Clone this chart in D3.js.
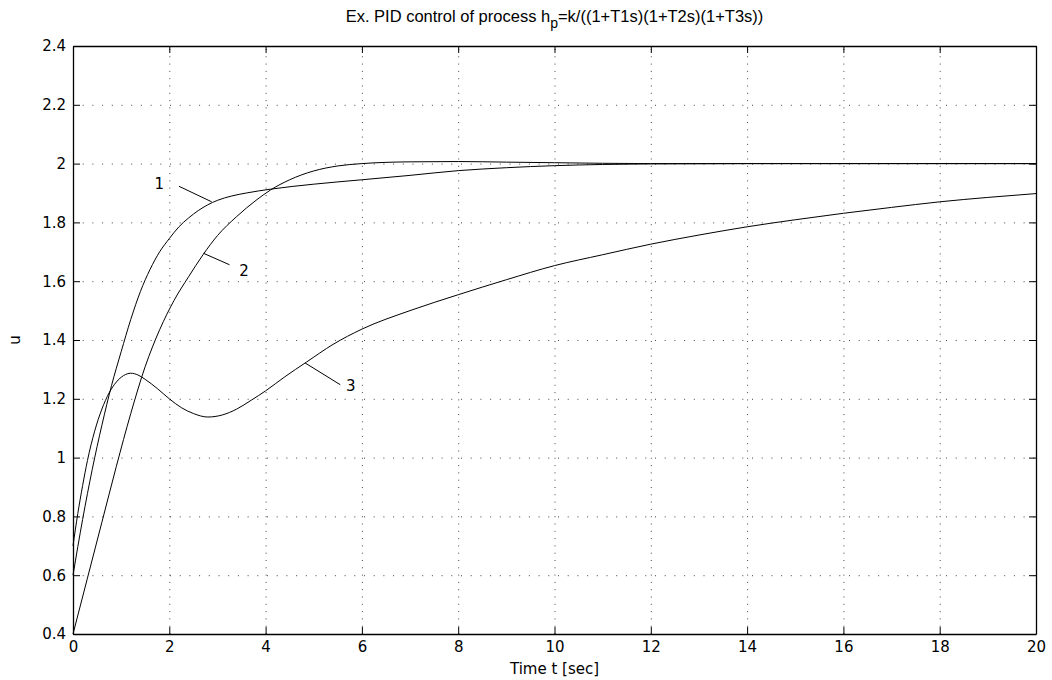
<!DOCTYPE html>
<html>
<head>
<meta charset="utf-8">
<script src="https://cdn.jsdelivr.net/npm/d3@7"></script>
<style>
  body { margin: 0; background: #fff; }
  svg { display: block; font-family: "DejaVu Sans", sans-serif; }
</style>
</head>
<body>
<div id="chart"></div>
<script>
// tick values
const xTicks = [0, 2, 4, 6, 8, 10, 12, 14, 16, 18, 20];
const yTicks = [0.4, 0.6, 0.8, 1, 1.2, 1.4, 1.6, 1.8, 2, 2.2, 2.4];

// curve 1
const t1 = [0, 0.2, 0.4, 0.6, 0.8, 1.0, 1.2, 1.4, 1.6, 1.8, 2.0, 2.2, 2.4, 2.6, 2.8, 3.0, 3.3, 3.6, 4.1, 5, 6, 7, 8, 9, 10, 11, 12, 14, 20];
const u1 = [0.6, 0.79, 0.96, 1.11, 1.245, 1.36, 1.47, 1.565, 1.64, 1.70, 1.745, 1.785, 1.815, 1.84, 1.86, 1.875, 1.89, 1.90, 1.913, 1.93, 1.945, 1.96, 1.976, 1.986, 1.993, 1.997, 1.999, 2.0, 2.0];
// curve 2
const t2 = [0, 0.3, 0.6, 0.9, 1.2, 1.5, 1.8, 2.1, 2.4, 2.7, 3.0, 3.4, 3.8, 4.1, 4.5, 5.0, 5.5, 6, 7, 8, 9, 10, 12, 20];
const u2 = [0.4, 0.59, 0.78, 0.97, 1.15, 1.31, 1.435, 1.535, 1.615, 1.69, 1.755, 1.82, 1.875, 1.91, 1.945, 1.975, 1.992, 2.0, 2.006, 2.007, 2.005, 2.003, 2.0, 2.0];
// curve 3
const t3 = [0, 0.1, 0.2, 0.3, 0.45, 0.6, 0.75, 0.9, 1.05, 1.2, 1.35, 1.5, 1.75, 2.0, 2.25, 2.5, 2.8, 3.1, 3.4, 3.7, 4.0, 4.4, 4.85, 5.4, 6, 7, 8, 9, 10, 11, 12, 13, 14, 15, 16, 17, 18, 19, 20];
const u3 = [0.7, 0.81, 0.905, 0.99, 1.09, 1.165, 1.22, 1.257, 1.279, 1.287, 1.281, 1.266, 1.235, 1.2, 1.17, 1.15, 1.138, 1.145, 1.165, 1.195, 1.227, 1.275, 1.325, 1.385, 1.437, 1.50, 1.554, 1.605, 1.653, 1.69, 1.726, 1.757, 1.785, 1.809, 1.831, 1.851, 1.87, 1.885, 1.898];

// curve labels: leader from curve point to end point, then text (data units)
const labelText = ["1", "2", "3"];
const labelFrom = [[2.88, 1.87], [2.71, 1.695], [4.82, 1.322]];
const labelTo = [[2.20, 1.923], [3.25, 1.656], [5.55, 1.248]];
const labelPos = [[1.79, 1.913], [3.55, 1.618], [5.77, 1.228]];

const W = 1052, H = 680;
const margin = { left: 73, right: 16, top: 46, bottom: 46 };
const gw = W - margin.left - margin.right;
const gh = H - margin.top - margin.bottom;

const svg = d3.select("#chart").append("svg")
    .attr("width", W)
    .attr("height", H);

const graph = svg.append("g")
    .attr("transform", `translate(${margin.left},${margin.top})`);

const x = d3.scaleLinear().domain([0, 20]).range([0, gw]);
const y = d3.scaleLinear().domain([0.4, 2.4]).range([gh, 0]);

// grid lines
graph.append("g")
    .attr("class", "grid-x")
    .attr("transform", `translate(0,${gh})`)
    .call(d3.axisBottom(x).tickValues(xTicks.slice(1, -1)).tickSize(-gh).tickFormat(""))
    .call(g => g.select(".domain").remove())
    .selectAll("line")
    .attr("stroke", "#444")
    .attr("stroke-dasharray", "1,6.3");

graph.append("g")
    .attr("class", "grid-y")
    .call(d3.axisLeft(y).tickValues(yTicks.slice(1, -1)).tickSize(-gw).tickFormat(""))
    .call(g => g.select(".domain").remove())
    .selectAll("line")
    .attr("stroke", "#444")
    .attr("stroke-dasharray", "1,8.7");

// axes with inward ticks on all 4 sides
const fmt = d => String(+d.toFixed(1));
const xAxis = graph.append("g")
    .attr("transform", `translate(0,${gh})`)
    .call(d3.axisBottom(x).tickValues(xTicks).tickSizeInner(-7).tickSizeOuter(0).tickPadding(7).tickFormat(fmt));
const yAxis = graph.append("g")
    .call(d3.axisLeft(y).tickValues(yTicks).tickSizeInner(-7).tickSizeOuter(0).tickPadding(7).tickFormat(fmt));
const xTop = graph.append("g")
    .call(d3.axisTop(x).tickValues(xTicks).tickSizeInner(-7).tickSizeOuter(0).tickFormat(""));
const yRight = graph.append("g")
    .attr("transform", `translate(${gw},0)`)
    .call(d3.axisRight(y).tickValues(yTicks).tickSizeInner(-7).tickSizeOuter(0).tickFormat(""));

[xAxis, yAxis, xTop, yRight].forEach(a => {
    a.select(".domain").attr("stroke", "#000").attr("stroke-width", 1.3);
    a.selectAll(".tick line").attr("stroke", "#000");
    a.selectAll("text")
        .attr("font-size", "15px")
        .attr("fill", "#000")
        .attr("font-family", "DejaVu Sans, sans-serif");
});

// curves
const line = d3.line()
    .x(d => x(d[0]))
    .y(d => y(d[1]))
    .curve(d3.curveMonotoneX);

[[t1, u1], [t2, u2], [t3, u3]].forEach(([ts, us]) => {
    graph.append("path")
        .datum(ts.map((t, i) => [t, us[i]]))
        .attr("fill", "none")
        .attr("stroke", "#000")
        .attr("stroke-width", 1)
        .attr("d", line);
});

// curve labels
labelText.forEach((txt, i) => {
    graph.append("line")
        .attr("x1", x(labelFrom[i][0]))
        .attr("y1", y(labelFrom[i][1]))
        .attr("x2", x(labelTo[i][0]))
        .attr("y2", y(labelTo[i][1]))
        .attr("stroke", "#000")
        .attr("stroke-width", 1);
    graph.append("text")
        .text(txt)
        .attr("x", x(labelPos[i][0]))
        .attr("y", y(labelPos[i][1]))
        .attr("text-anchor", "middle")
        .attr("font-size", "15px");
});

// title with subscript
const title = svg.append("text")
    .attr("x", margin.left + gw / 2)
    .attr("y", 22)
    .attr("text-anchor", "middle")
    .attr("font-family", "Liberation Sans, Arial, sans-serif")
    .attr("font-size", "16.5px");
title.append("tspan").text("Ex. PID control of process h");
title.append("tspan").text("p").attr("dy", 6).attr("font-size", "14px");
title.append("tspan").text("=k/((1+T1s)(1+T2s)(1+T3s))").attr("dy", -6);

// axis labels
svg.append("text")
    .text("Time t [sec]")
    .attr("x", margin.left + gw / 2)
    .attr("y", 674)
    .attr("text-anchor", "middle")
    .attr("font-size", "15px");

svg.append("text")
    .text("u")
    .attr("transform", `translate(20,${margin.top + gh / 2}) rotate(-90)`)
    .attr("text-anchor", "middle")
    .attr("font-size", "15px");
</script>
</body>
</html>
